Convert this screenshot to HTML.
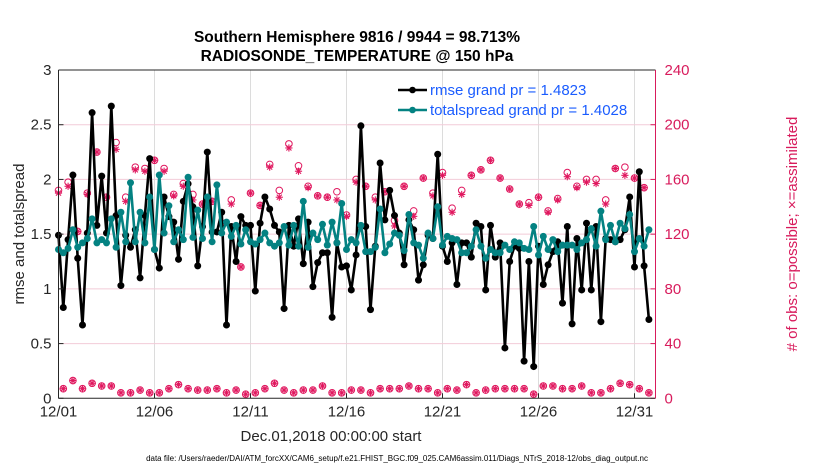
<!DOCTYPE html>
<html><head><meta charset="utf-8">
<style>
body{margin:0;background:#fff;}
svg{display:block;font-family:"Liberation Sans",Arial,sans-serif;}
</style></head>
<body>
<svg id="chart" width="830" height="470" viewBox="0 0 830 470">
  <text x="357" y="42" text-anchor="middle" font-size="15.5" font-weight="bold" fill="#000">Southern Hemisphere 9816 / 9944 = 98.713%</text>
  <text x="357" y="61" text-anchor="middle" font-size="15.5" font-weight="bold" fill="#000">RADIOSONDE_TEMPERATURE @ 150 hPa</text>
  <g id="grid"></g>
  <g id="series"></g>
  <g id="axes"></g>
  <text transform="translate(24,234) rotate(-90)" text-anchor="middle" font-size="15" fill="#262626">rmse and totalspread</text>
  <text transform="translate(797,234) rotate(-90)" text-anchor="middle" font-size="15" fill="#d81b5c"># of obs: o=possible; ×=assimilated</text>
  <text x="331" y="441" text-anchor="middle" font-size="15" fill="#262626">Dec.01,2018 00:00:00 start</text>
  <text x="397" y="461" text-anchor="middle" font-size="8" fill="#000">data file: /Users/raeder/DAI/ATM_forcXX/CAM6_setup/f.e21.FHIST_BGC.f09_025.CAM6assim.011/Diags_NTrS_2018-12/obs_diag_output.nc</text>
  <g id="legend"></g>
</svg>
<script>
const xTickLabels = ["12/01","12/06","12/11","12/16","12/21","12/26","12/31"];
const xTickDays = [0,5,10,15,20,25,30];
const yTicksLeft = [0,0.5,1,1.5,2,2.5,3];
const yTickLabelsLeft = ["0","0.5","1","1.5","2","2.5","3"];
const yTicksRight = [0,40,80,120,160,200,240];
const rmse = [1.49,0.83,1.45,2.04,1.28,0.67,1.51,2.61,1.58,2.03,1.51,2.67,1.67,1.03,1.49,1.38,1.54,1.10,1.67,2.19,1.36,1.19,1.84,1.66,1.61,1.27,1.80,1.96,1.75,1.21,1.57,2.25,1.52,1.52,1.70,0.67,1.57,1.25,1.66,1.58,1.58,0.98,1.60,1.84,1.73,1.58,1.52,0.82,1.58,1.39,1.64,1.23,1.61,1.02,1.24,1.33,1.33,0.74,1.42,1.20,1.21,0.99,1.31,2.49,1.57,0.81,1.39,2.15,1.63,1.90,1.67,1.51,1.22,1.63,1.54,1.08,1.22,1.49,1.46,2.23,1.39,1.25,1.42,1.04,1.42,1.42,1.29,1.60,1.57,0.99,1.58,1.29,1.42,0.46,1.25,1.39,1.37,0.34,1.25,0.29,1.39,1.04,1.22,1.34,1.43,0.87,1.57,0.68,1.46,0.99,1.60,0.99,1.57,0.70,1.46,1.45,1.43,1.45,1.54,1.84,1.20,2.07,1.21,0.72];
const spread = [1.36,1.33,1.37,1.54,1.38,1.42,1.46,1.64,1.42,1.45,1.42,1.64,1.38,1.70,1.43,1.97,1.43,1.70,1.42,1.84,1.36,2.04,1.51,1.76,1.43,1.54,1.45,2.02,1.47,1.72,1.46,1.84,1.43,1.95,1.51,1.61,1.48,1.58,1.41,1.54,1.43,1.41,1.45,1.51,1.42,1.39,1.42,1.57,1.40,1.58,1.39,1.80,1.38,1.51,1.45,1.59,1.40,1.61,1.42,1.78,1.36,1.45,1.42,1.58,1.34,1.34,1.38,1.73,1.33,1.41,1.51,1.49,1.35,1.68,1.42,1.40,1.28,1.51,1.46,1.75,1.40,1.48,1.46,1.45,1.33,1.33,1.39,1.54,1.39,1.28,1.36,1.33,1.33,1.40,1.36,1.43,1.42,1.37,1.36,1.57,1.31,1.48,1.36,1.45,1.34,1.40,1.40,1.40,1.36,1.42,1.45,1.55,1.39,1.71,1.45,1.58,1.43,1.60,1.55,1.68,1.34,1.46,1.39,1.54];
const nPossible = [152,7,158,13,122,7,150,11,180,9,147,9,187,4,147,4,169,6,168,4,174,4,168,7,149,10,157,7,149,6,142,6,144,7,128,4,145,6,96,3,150,4,141,7,171,11,152,6,186,4,170,6,155,6,148,9,147,4,151,4,134,6,160,6,155,4,147,7,151,7,130,7,155,9,137,7,161,7,150,4,165,7,139,6,152,10,163,4,167,6,174,7,161,7,153,7,142,7,143,3,147,9,137,9,146,7,165,7,155,9,160,4,160,4,145,7,168,11,169,10,161,7,154,4];
const nAssim = [150,7,155,13,122,7,149,11,180,9,147,9,182,4,144,4,167,6,166,4,174,4,166,7,148,10,155,7,145,6,142,6,144,7,128,4,142,6,96,3,150,4,141,7,169,11,147,6,183,4,166,6,154,6,148,9,147,4,145,4,133,6,158,6,155,4,145,7,151,7,126,7,155,9,133,7,161,7,148,4,163,7,136,6,149,10,163,4,167,6,174,7,161,7,153,7,142,7,141,3,147,9,136,9,145,7,162,7,154,9,158,4,157,4,142,7,168,11,163,10,161,7,154,4];

const NS = "http://www.w3.org/2000/svg";
const X0 = 58.5, X1 = 655.5, Y0 = 398.3, Y1 = 70;
const pxPerDay = 19.2;
function xDay(d){ return X0 + d*pxPerDay; }
function xIdx(i){ return xDay(i*0.25); }
function yL(v){ return Y0 - (v/3)*(Y0-Y1); }
function yR(v){ return Y0 - (v/240)*(Y0-Y1); }
function mk(tag, attrs, parent){ const e=document.createElementNS(NS,tag); for(const k in attrs) e.setAttribute(k,attrs[k]); parent.appendChild(e); return e; }

const grid = document.getElementById('grid');
const axes = document.getElementById('axes');
const ser = document.getElementById('series');
const leg = document.getElementById('legend');

mk('rect',{x:X0,y:Y1,width:X1-X0,height:Y0-Y1,fill:'#fff'},grid);
xTickDays.forEach((d,i)=>{
  const gl = mk('line',{x1:xDay(d),x2:xDay(d),y1:Y1,y2:Y0,stroke:'#dcdcdc','stroke-width':1},grid);
  
  
  const tk = mk('line',{x1:xDay(d),x2:xDay(d),y1:Y0,y2:Y0-5,stroke:'#262626','stroke-width':1},axes);
  
  
  const t = mk('text',{x:xDay(d),y:Y0+18,'text-anchor':'middle','font-size':15,fill:'#262626'},axes);
  t.textContent = xTickLabels[i];
  
  
});
yTicksLeft.forEach((v,i)=>{
  if(v>0 && v<3){
    const gl = mk('line',{x1:X0,x2:X1,y1:yL(v),y2:yL(v),stroke:'#f2cbd8','stroke-width':1},grid);
    
    
  }
  mk('line',{x1:X0,x2:X0+5,y1:yL(v),y2:yL(v),stroke:'#262626'},axes);
  const t = mk('text',{x:X0-7,y:yL(v)+5,'text-anchor':'end','font-size':15,fill:'#262626'},axes);
  t.textContent = yTickLabelsLeft[i];
  
  
});
yTicksRight.forEach(v=>{
  mk('line',{x1:X1,x2:X1-5,y1:yR(v),y2:yR(v),stroke:'#d81b5c'},axes);
  const t = mk('text',{x:X1+9,y:yR(v)+5,'text-anchor':'start','font-size':15,fill:'#d81b5c'},axes);
  t.textContent = String(v);
  
  
});
mk('line',{x1:X0,x2:X1,y1:Y1,y2:Y1,stroke:'#262626'},axes);
mk('line',{x1:X0,x2:X1,y1:Y0,y2:Y0,stroke:'#262626'},axes);
mk('line',{x1:X0,x2:X0,y1:Y1,y2:Y0,stroke:'#262626'},axes);
mk('line',{x1:X1,x2:X1,y1:Y1,y2:Y0,stroke:'#d81b5c'},axes);

const PINK = '#e0185f', TEAL = '#048282';
function star(cx,cy,r,color,parent,name){
  const g = mk('g',{},parent);
  
  
  for(let a=0;a<4;a++){
    const ang = a*Math.PI/4;
    mk('line',{x1:cx-r*Math.cos(ang),y1:cy-r*Math.sin(ang),x2:cx+r*Math.cos(ang),y2:cy+r*Math.sin(ang),stroke:color,'stroke-width':1.1},g);
  }
  return g;
}
nPossible.forEach((v,i)=>{
  const c = mk('circle',{cx:xIdx(i),cy:yR(v),r:3.3,fill:'none',stroke:PINK,'stroke-width':1},ser);
  
  
});
nAssim.forEach((v,i)=>{
  star(xIdx(i),yR(v),3.6,PINK,ser,'obs-assimilated-point');
});
function lineSeries(arr,color,name){
  const pts = arr.map((v,i)=>xIdx(i).toFixed(1)+','+yL(v).toFixed(1)).join(' ');
  const pl = mk('polyline',{points:pts,fill:'none',stroke:color,'stroke-width':2.6,'stroke-linejoin':'round'},ser);
  
  
  arr.forEach((v,i)=>{
    const c = mk('circle',{cx:xIdx(i),cy:yL(v),r:3.5,fill:color},ser);
    
    
  });
}
lineSeries(rmse,'#000','rmse');
lineSeries(spread,TEAL,'totalspread');

const legItems = [['#000','rmse grand pr = 1.4823',90],[TEAL,'totalspread grand pr = 1.4028',110]];
legItems.forEach(it=>{
  const g = mk('g',{},leg);
  
  
  mk('line',{x1:398,x2:427,y1:it[2],y2:it[2],stroke:it[0],'stroke-width':2.6},g);
  mk('circle',{cx:412.5,cy:it[2],r:3.3,fill:it[0]},g);
  const t = mk('text',{x:430,y:it[2]+5,'font-size':15,fill:'#1a5cff'},g);
  t.textContent = it[1];
});
</script>
</body></html>
